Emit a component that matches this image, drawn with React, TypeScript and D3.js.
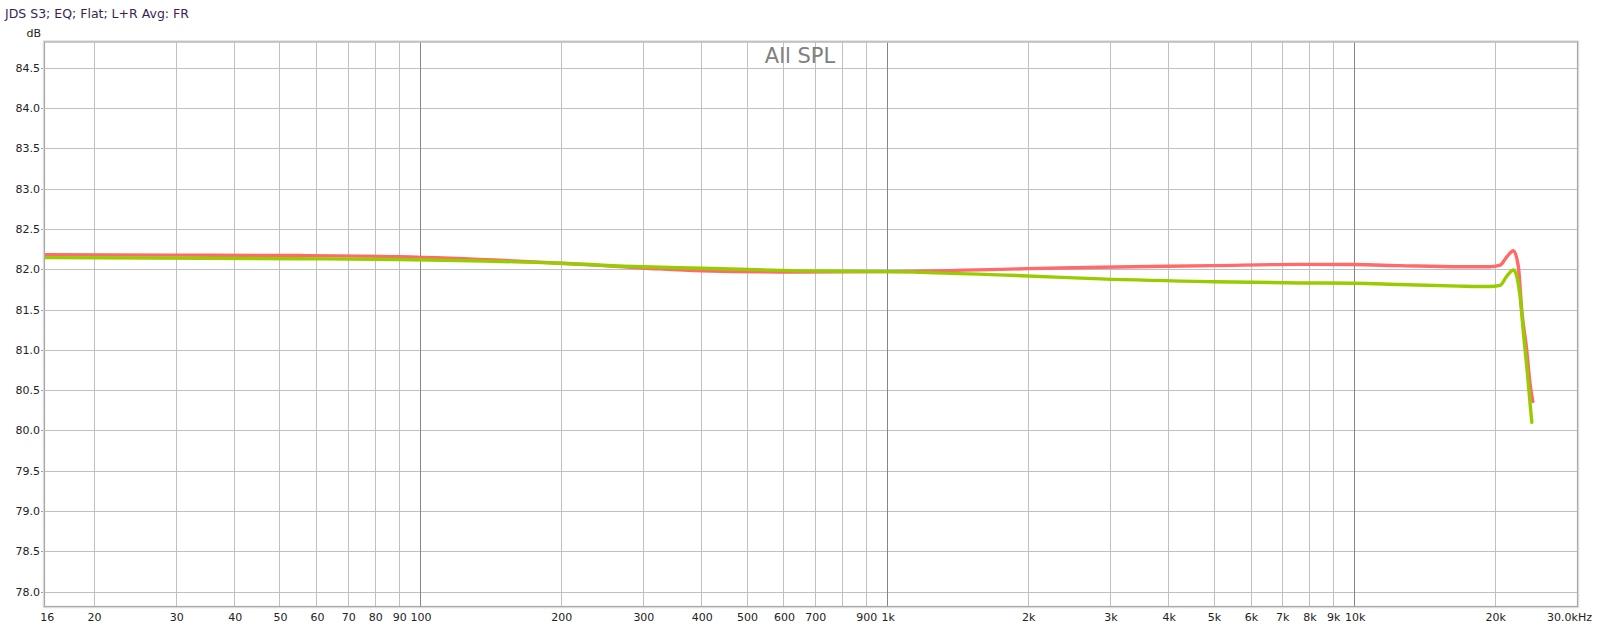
import React from "react";
import * as d3 from "d3";

const title = "JDS S3; EQ; Flat; L+R Avg: FR";
const centerLabel = "All SPL";

const redFreqs = [15.8, 30, 55, 90, 200, 300, 400, 650, 1000, 2000, 2860, 5000, 7650, 10000, 12500, 16800, 19500, 20540, 21200, 21930, 22470, 22850, 23420, 23800, 24130];
const redValues = [82.18, 82.175, 82.17, 82.156, 82.075, 82.016, 81.98, 81.965, 81.97, 82.007, 82.025, 82.045, 82.06, 82.058, 82.045, 82.03, 82.03, 82.05, 82.15, 82.23, 82.03, 81.49, 80.99, 80.58, 80.36];

const greenFreqs = [15.8, 55, 90, 200, 300, 400, 650, 1000, 2000, 2860, 5000, 7650, 10000, 12500, 16800, 19500, 20540, 21200, 21930, 22300, 22660, 23040, 23420, 23800, 24010];
const greenValues = [82.144, 82.13, 82.12, 82.074, 82.03, 82.013, 81.98, 81.97, 81.917, 81.88, 81.845, 81.83, 81.826, 81.81, 81.79, 81.785, 81.8, 81.91, 81.99, 81.91, 81.66, 81.2, 80.79, 80.34, 80.1];

const xGridFreqs = [20, 30, 40, 50, 60, 70, 80, 90, 100, 200, 300, 400, 500, 600, 700, 800, 900, 1000, 2000, 3000, 4000, 5000, 6000, 7000, 8000, 9000, 10000, 20000];
const xMajorFreqs = [100, 1000, 10000];
const xTickFreqs = [16, 20, 30, 40, 50, 60, 70, 80, 90, 100, 200, 300, 400, 500, 600, 700, 900, 1000, 2000, 3000, 4000, 5000, 6000, 7000, 8000, 9000, 10000, 20000];
const xTickLabels = ["16", "20", "30", "40", "50", "60", "70", "80", "90", "100", "200", "300", "400", "500", "600", "700", "900", "1k", "2k", "3k", "4k", "5k", "6k", "7k", "8k", "9k", "10k", "20k"];
const xEndLabel = "30.0kHz";
const yTicks = [84.5, 84.0, 83.5, 83.0, 82.5, 82.0, 81.5, 81.0, 80.5, 80.0, 79.5, 79.0, 78.5, 78.0];

export default function App() {
  const W = 1600, H = 628;
  const left = 45, right = 1577, top = 42.5, bottom = 606;
  const x = d3.scaleLog().domain([15.74, 30000]).range([left, right]);
  const y = d3.scaleLinear().domain([84.5, 78.0]).range([67.7, 591.7]);
  const line = d3
    .line<[number, number]>()
    .x((d) => x(d[0]))
    .y((d) => y(d[1]))
    .curve(d3.curveMonotoneX);
  const red = line(redFreqs.map((f, i) => [f, redValues[i]] as [number, number])) || "";
  const green = line(greenFreqs.map((f, i) => [f, greenValues[i]] as [number, number])) || "";
  const font = "DejaVu Sans, sans-serif";
  return (
    <svg width={W} height={H} style={{ position: "absolute", left: 0, top: 0, background: "#fff" }} fontFamily={font}>
      <rect x={0} y={0} width={W} height={H} fill="#fff" />
      <text x={5} y={18} fontSize={12.5} fill="#3a1f55">{title}</text>
      <text x={41} y={37} fontSize={11} fill="#222" textAnchor="end">dB</text>
      <defs>
        <clipPath id="plot">
          <rect x={left} y={top} width={right - left} height={bottom - top} />
        </clipPath>
      </defs>
      {yTicks.map((v) => (
        <g key={"y" + v}>
          <line x1={left} x2={right} y1={Math.round(y(v)) + 0.5} y2={Math.round(y(v)) + 0.5} stroke="#c0c0c0" strokeWidth={1} />
          <line x1={left - 4} x2={left} y1={Math.round(y(v)) + 0.5} y2={Math.round(y(v)) + 0.5} stroke="#999" strokeWidth={1} />
          <text x={40} y={y(v) + 4} fontSize={11} fill="#222" textAnchor="end">{v.toFixed(1)}</text>
        </g>
      ))}
      {xGridFreqs.map((f) => (
        <line key={"x" + f} x1={Math.round(x(f)) + 0.5} x2={Math.round(x(f)) + 0.5} y1={top} y2={bottom} stroke={xMajorFreqs.includes(f) ? "#858585" : "#c0c0c0"} strokeWidth={1} />
      ))}
      {xTickFreqs.map((f, i) => (
        <text key={"xl" + f} x={f === 16 ? x(f) - 1 : x(f) + 1} y={621} fontSize={11} fill="#222" textAnchor="middle">{xTickLabels[i]}</text>
      ))}
      <text x={1592} y={621} fontSize={11} fill="#222" textAnchor="end">{xEndLabel}</text>
      <text x={800} y={63} fontSize={21} fill="#808080" textAnchor="middle">{centerLabel}</text>
      <g clipPath="url(#plot)">
        <path d={red} fill="none" stroke="#ff6a6a" strokeWidth={3.4} strokeLinejoin="round" strokeLinecap="round" />
        <path d={green} fill="none" stroke="#99cc00" strokeWidth={3.4} strokeLinejoin="round" strokeLinecap="round" />
      </g>
      <rect x={left - 1.5} y={top - 1.5} width={right - left + 3} height={bottom - top + 3} fill="none" stroke="#e0e0e0" strokeWidth={1.5} />
      <rect x={left - 0.5} y={top - 0.5} width={right - left + 1} height={bottom - top + 1} fill="none" stroke="#a8a8a8" strokeWidth={1.2} />
    </svg>
  );
}
